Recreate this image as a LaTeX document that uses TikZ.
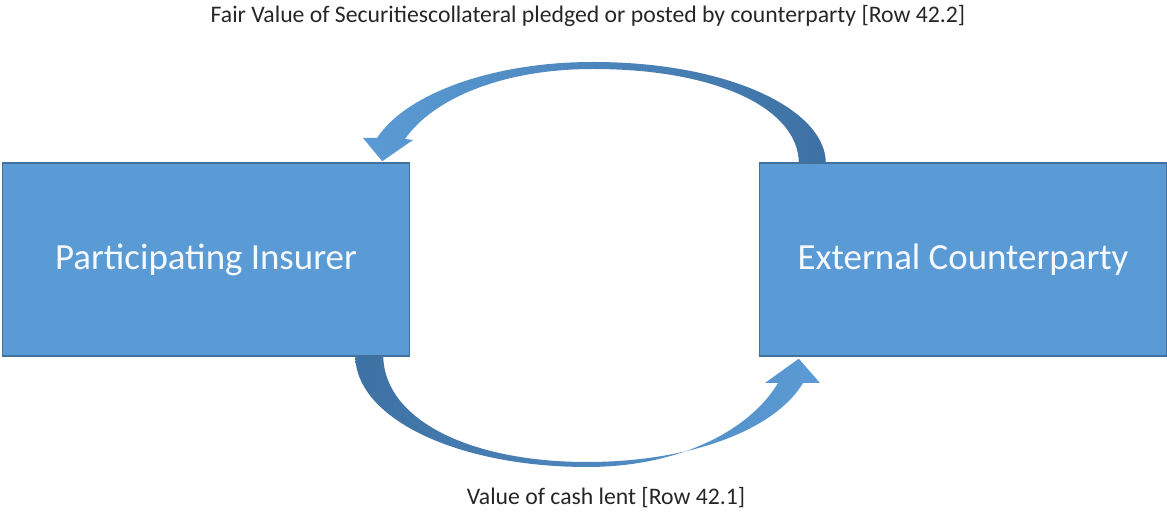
\documentclass[tikz,border=0pt]{standalone}
\usepackage{fontspec}
\setmainfont{Carlito}
\usetikzlibrary{calc}
\definecolor{boxblue}{HTML}{5B9BD5}
\definecolor{boxedge}{HTML}{41719C}
\definecolor{arrowdark}{HTML}{3E71A3}
\definecolor{arrowlight}{HTML}{5B9BD5}
\definecolor{labeltext}{HTML}{262626}
\tikzset{
  partybox/.style={draw=boxedge, line width=0.03cm, fill=boxblue, minimum width=8.14cm,
    minimum height=3.86cm, inner sep=0pt, text=white!94!boxblue, font=\fontsize{21}{25}\selectfont},
  flowlabel/.style={text=labeltext, font=\fontsize{13.5}{16}\selectfont, inner sep=0pt}
}
\begin{document}
\begin{tikzpicture}[x=0.02cm, y=-0.02cm]
\useasboundingbox (0,0) rectangle (1167,516);

% Marking box of the insurer
\node [partybox] (insurer) at (206,259.5) {Participating Insurer};

% Marking box of the counterparty
\node [partybox] (counter) at (963,259.5) {External Counterparty};

% Marking label of the upper flow
\node [flowlabel] (securities) at (588,16) {Fair Value of Securitiescollateral pledged or posted by counterparty [Row 42.2]};

% Marking label of the lower flow
\node [flowlabel] (cash) at (606,498) {Value of cash lent [Row 42.1]};

% Drawing upper curved arrow, counterparty to insurer
\shade [left color=arrowlight, right color=arrowdark]
  ($(counter.north west)+(67,0)$) .. controls (825,110) and (730,62) .. (593,62)
  .. controls (490,62) and (405,95) .. (377,138)
  -- (363,138) -- ($(insurer.north east)+(-28,-1)$) -- (413,140) -- (405,139)
  .. controls (432,100) and (500,69) .. (593,69)
  .. controls (720,69) and (798,110) .. ($(counter.north west)+(40,0)$) -- cycle;

% Drawing lower curved arrow, insurer to counterparty
\shade [left color=arrowdark, right color=arrowlight]
  ($(insurer.south east)+(-55,0)$) .. controls (357,420) and (460,467) .. (587,467)
  .. controls (680,467) and (750,430) .. (778,383)
  -- (765,383) -- ($(counter.south west)+(40,2)$) -- (820,383) -- (803,383)
  .. controls (775,430) and (690,462) .. (587,462)
  .. controls (470,462) and (385,420) .. ($(insurer.south east)+(-27,0)$) -- cycle;
\end{tikzpicture}
\end{document}
